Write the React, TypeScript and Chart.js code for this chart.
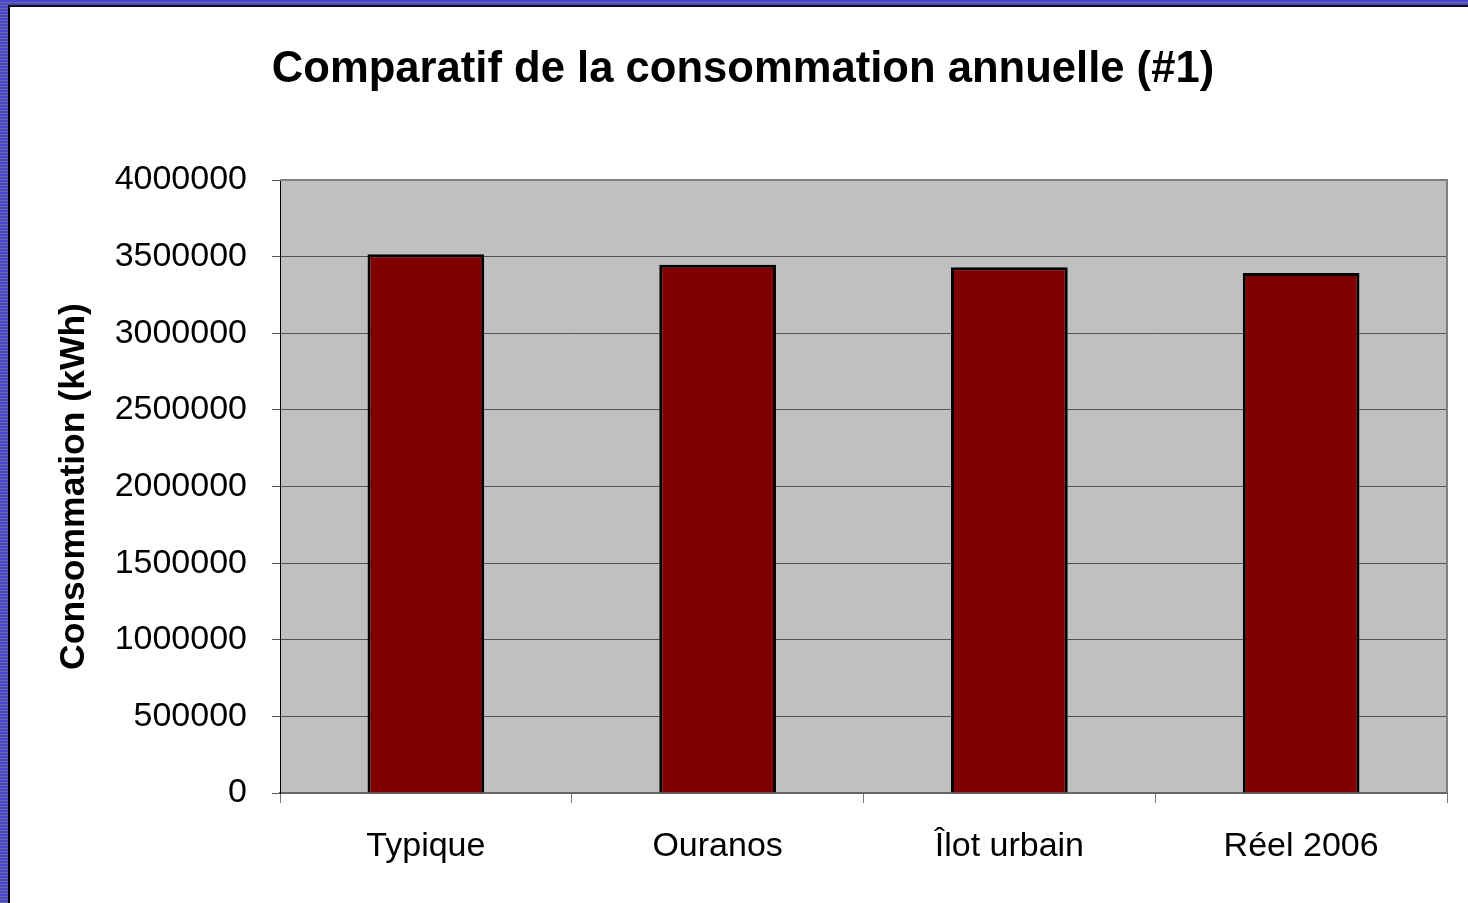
import React, { useEffect, useRef } from "react";
import { Chart, registerables } from "chart.js";

Chart.register(...registerables);

const categories = ["Typique", "Ouranos", "Îlot urbain", "Réel 2006"];
const consommation = [3515000, 3447000, 3430000, 3393000];
const yTicksMin = 0;
const yTicksMax = 4000000;
const yTicksStep = 500000;
const chartTitle = "Comparatif de la consommation annuelle (#1)";
const yTitle = "Consommation (kWh)";

const plotBg = {
  id: "plotBg",
  beforeDraw(chart: any) {
    const { ctx, chartArea } = chart;
    if (!chartArea) return;
    ctx.save();
    ctx.fillStyle = "#C0C0C0";
    ctx.fillRect(chartArea.left, chartArea.top, chartArea.right - chartArea.left, chartArea.bottom - chartArea.top);
    ctx.restore();
  },
  afterDatasetsDraw(chart: any) {
    const { ctx, chartArea } = chart;
    ctx.save();
    ctx.strokeStyle = "#808080";
    ctx.lineWidth = 2;
    ctx.beginPath();
    ctx.moveTo(chartArea.left, chartArea.top);
    ctx.lineTo(chartArea.right, chartArea.top);
    ctx.lineTo(chartArea.right, chartArea.bottom);
    ctx.stroke();
    ctx.restore();
  },
};

export default function App() {
  const ref = useRef<HTMLCanvasElement | null>(null);
  useEffect(() => {
    if (!ref.current) return;
    const font = "'Liberation Sans', Arial, sans-serif";
    const chart = new Chart(ref.current, {
      type: "bar",
      data: {
        labels: categories,
        datasets: [
          {
            data: consommation,
            backgroundColor: "#800000",
            borderColor: "#000000",
            borderWidth: 3,
            barPercentage: 0.5,
            categoryPercentage: 0.8,
          },
        ],
      },
      plugins: [plotBg],
      options: {
        animation: false,
        responsive: false,
        devicePixelRatio: 1,
        layout: { padding: { left: 39, right: 21, top: 0, bottom: 0 } },
        plugins: {
          legend: { display: false },
          tooltip: { enabled: false },
          title: {
            display: true,
            text: chartTitle,
            color: "#000",
            font: { family: font, size: 43.6, weight: "bold" },
            padding: { top: 44, bottom: 83.7 },
          },
        },
        scales: {
          x: {
            afterFit(scale: any) {
              scale.height = 110;
            },
            grid: {
              display: true,
              offset: true,
              drawOnChartArea: false,
              drawTicks: true,
              tickLength: 10,
              tickColor: "#777",
            },
            border: { display: true, color: "#666", width: 2 },
            ticks: {
              color: "#000",
              padding: 23,
              font: { family: font, size: 34 },
              maxRotation: 0,
              autoSkip: false,
            },
          },
          y: {
            min: yTicksMin,
            max: yTicksMax,
            afterFit(scale: any) {
              scale.width = 241;
            },
            grid: {
              color: "#555",
              lineWidth: 1,
              drawTicks: true,
              tickLength: 8,
              tickColor: "#555",
            },
            border: { display: true, color: "#000", width: 1 },
            ticks: {
              stepSize: yTicksStep,
              color: "#000",
              padding: 25,
              font: { family: font, size: 34 },
              callback: (v: any) => String(v),
            },
            title: {
              display: true,
              text: yTitle,
              color: "#000",
              font: { family: font, size: 35.5, weight: "bold" },
              padding: { top: 14, bottom: 0 },
            },
          },
        },
      },
    });
    return () => chart.destroy();
  }, []);

  return (
    <div
      style={{
        position: "fixed",
        left: 0,
        top: 0,
        width: 1468,
        height: 903,
        background: "repeating-linear-gradient(to bottom, #4646d2 0px, #4646d2 2px, #6c6c94 2px, #6c6c94 3px)",
        overflow: "hidden",
      }}
    >
      <div
        style={{
          position: "absolute",
          left: 8,
          top: 5,
          right: 0,
          bottom: 0,
          background: "#fff",
          borderLeft: "2px solid #000",
          borderTop: "2px solid #111",
        }}
      />
      <canvas ref={ref} width={1468} height={903} style={{ position: "absolute", left: 0, top: 0 }} />
    </div>
  );
}
